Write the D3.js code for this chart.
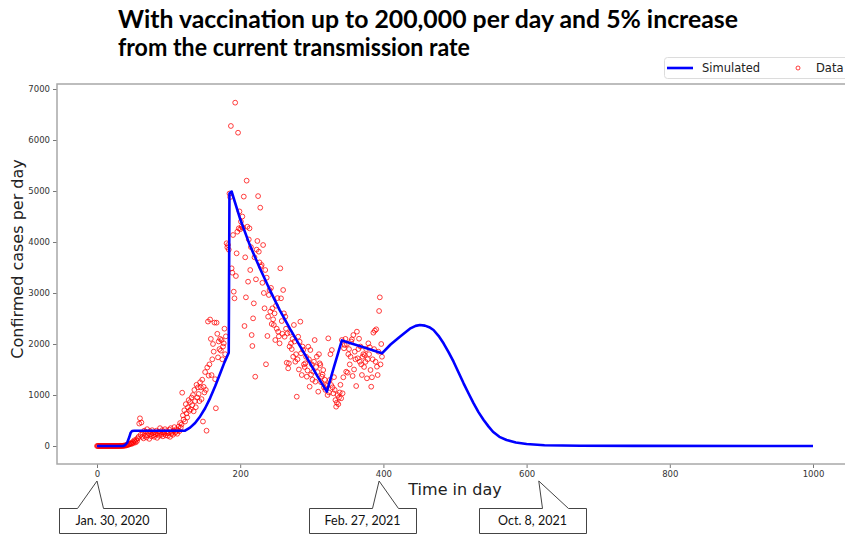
<!DOCTYPE html>
<html>
<head>
<meta charset="utf-8">
<script src="https://cdn.jsdelivr.net/npm/d3@7"></script>
<style>
  body { margin: 0; background: #fff; }
  svg { display: block; }
</style>
</head>
<body>
<div id="chart"></div>
<script>
// Title lines
var titleLines = ["With vaccination up to 200,000 per day and 5% increase",
                  "from the current transmission rate"];

// Axis ticks
var xTicks = [0, 200, 400, 600, 800, 1000];
var yTicks = [0, 1000, 2000, 3000, 4000, 5000, 6000, 7000];

// Simulated curve: [day, cases]
var simDays = [0, 36, 39, 42, 45, 47, 49, 52, 123, 130, 137, 144, 151, 158, 165, 172, 178, 184,
               185, 188, 200, 213, 227, 241, 255, 270, 284, 297, 309, 321, 331, 342, 370, 398,
               410, 423, 437, 445, 451, 458, 464, 470, 477, 484, 491, 498, 505, 512, 519, 526,
               533, 540, 547, 553, 562, 572, 585, 600, 625, 675, 750, 1000];
var simCases = [0, 0, 15, 60, 170, 260, 295, 300, 300, 360, 450, 580, 740, 940, 1170, 1420, 1640, 1830,
                4950, 4990, 4450, 3954, 3500, 3072, 2670, 2288, 1950, 1634, 1340, 1065, 1550, 2070, 1945, 1817,
                1990, 2143, 2300, 2355, 2373, 2360, 2330, 2275, 2160, 2013, 1840, 1653, 1440, 1229, 1030, 837,
                660, 510, 380, 280, 180, 118, 70, 39, 15, 6, 2, 0];

// Reported data, one value per day starting at day 0
var dataCases = [
  0, 0, 0, 0, 0, 0, 0, 0, 0, 0,
  0, 0, 0, 0, 0, 0, 0, 0, 0, 0,
  0, 0, 0, 0, 0, 0, 0, 1, 0, 0,
  0, 2, 0, 3, 1, 5, 2, 8, 4, 10,
  15, 10, 25, 20, 35, 30, 50, 40, 60, 45,
  80, 60, 110, 90, 70, 130, 100, 150, 180, 440,
  543, 220, 460, 180, 250, 150, 300, 200, 280, 170,
  330, 210, 260, 140, 290, 230, 190, 310, 250, 210,
  180, 270, 230, 300, 160, 240, 280, 200, 350, 260,
  220, 310, 190, 270, 240, 330, 210, 290, 250, 200,
  260, 320, 180, 350, 240, 280, 220, 300, 370, 260,
  280, 330, 240, 310, 380, 290, 450, 360, 420, 1045,
  600, 520, 700, 480, 820, 640, 560, 760, 900, 690,
  860, 720, 950, 800, 1000, 680, 1100, 880, 760, 1200,
  950, 1150, 1020, 880, 1250, 1150, 920, 1300, 480, 1160,
  1050, 1450, 1100, 300, 1540, 2440, 1380, 1600, 2480, 2100,
  1390, 1700, 2000, 1850, 2420, 1310, 740, 2418, 2200, 1738,
  2050, 1900, 2100, 1870, 2078, 1700, 1950, 2013, 2300, 1800,
  2150, 3975, 3896, 3941, 3850, 4950, 4880, 6275, 3484, 3398,
  4137, 3026, 2896, 6732, 3333, 3778, 4202, 6143, 4268, 4600,
  4250, 4400, 4301, 4500, 4280, 4890, 2353, 3700, 2915, 5203,
  4300, 3222, 4050, 4268, 3451, 3900, 2176, 1961, 2503, 2797,
  3700, 1359, 3268, 3850, 4020, 4900, 3810, 3600, 4673, 3516,
  3549, 3200, 3941, 3000, 2700, 3451, 1602, 3300, 2157, 2535,
  2961, 3059, 2634, 3100, 2392, 2700, 2484, 2373, 2600, 2078,
  2750, 2300, 2900, 2242, 2150, 2013, 3484, 2896, 2450, 2200,
  3059, 2601, 2143, 2536, 2300, 1633, 2209, 1523, 1621, 1950,
  2222, 2013, 1900, 2100, 1751, 2373, 2050, 1653, 1800, 967,
  1700, 2143, 1500, 2045, 2438, 1817, 1392, 1950, 1882, 1600,
  1550, 1621, 1750, 1359, 1480, 1947, 1700, 1163, 1882, 1400,
  1600, 1300, 1457, 1653, 2078, 1261, 1550, 1751, 1450, 1065,
  1800, 1621, 1588, 1250, 1359, 1400, 1490, 1150, 1300, 1100,
  1200, 1176, 1000, 2111, 1050, 1294, 1800, 1196, 1882, 1150,
  1033, 1350, 1100, 900, 771, 850, 1000, 820, 950, 1050,
  1200, 935, 2078, 1033, 1347, 1915, 1980, 2100, 1457, 2000,
  1438, 1800, 1900, 1600, 1750, 2050, 2092, 1373, 2176, 1500,
  1849, 1700, 1176, 2242, 1719, 1900, 2104, 1653, 1950, 1600,
  1392, 1751, 1800, 1550, 1784, 1650, 1900, 1327, 1700, 2013,
  1800, 1935, 1490, 1163, 1347, 1700, 2222, 1900, 2261, 1653,
  2288, 1555, 1392, 1850, 2647, 2915, 1600, 2000, 1750
];

// Date callouts under the x axis
var calloutDays = [0, 394, 617];
var calloutLabels = ["Jan. 30, 2020", "Feb. 27, 2021", "Oct. 8, 2021"];

// Legend entries
var legendLabels = ["Simulated", "Data"];

// Graph information
var width = 845, height = 535;
var frame = {left: 57, top: 84, bottom: 464, right: 849};

var svg = d3.select('#chart')
  .append('svg')
    .attr('width', width)
    .attr('height', height);

// Build scales
var x = d3.scaleLinear()
  .domain([0, 1000])
  .range([97, 813]);
var y = d3.scaleLinear()
  .domain([0, 7000])
  .range([446, 89]);

// Title
svg.selectAll(".title")
  .data(titleLines)
  .enter().append("text")
    .attr("class", "title")
    .attr("x", 118)
    .attr("y", (d, i) => 28 + i * 27.5)
    .attr("textLength", (d, i) => i == 0 ? 620 : 352)
    .attr("lengthAdjust", "spacingAndGlyphs")
    .style("font-family", "Lato, 'Open Sans', sans-serif")
    .style("font-weight", "bold")
    .style("font-size", "24px")
    .style("fill", "#000")
    .text(d => d);

// Axes
var x_axis = svg.append("g")
  .attr("class", "x-axis")
  .attr("transform", `translate(0,${frame.bottom})`)
  .call(d3.axisBottom(x).tickValues(xTicks).tickFormat(d3.format("d")).tickSize(4).tickPadding(3));
var y_axis = svg.append("g")
  .attr("class", "y-axis")
  .attr("transform", `translate(${frame.left},0)`)
  .call(d3.axisLeft(y).tickValues(yTicks).tickFormat(d3.format("d")).tickSize(4).tickPadding(3));

svg.selectAll(".x-axis .domain, .y-axis .domain").remove();
svg.selectAll(".tick line").attr("stroke", "#555").attr("stroke-width", 0.8);
svg.selectAll(".tick text")
  .style("font-family", "'DejaVu Sans', sans-serif")
  .style("font-size", "8.5px")
  .style("fill", "#333");

// Frame (right side is off the page)
svg.append("rect")
  .attr("x", frame.left)
  .attr("y", frame.top)
  .attr("width", frame.right - frame.left)
  .attr("height", frame.bottom - frame.top)
  .attr("fill", "none")
  .attr("stroke", "#a8a8a8")
  .attr("stroke-width", 1.5);

// Axis titles
svg.append("text")
  .attr("transform", "translate(23,259) rotate(-90)")
  .attr("text-anchor", "middle")
  .style("font-family", "'DejaVu Sans', sans-serif")
  .style("font-size", "16px")
  .style("fill", "#222")
  .text("Confirmed cases per day");

svg.append("text")
  .attr("x", 455)
  .attr("y", 495)
  .attr("text-anchor", "middle")
  .style("font-family", "'DejaVu Sans', sans-serif")
  .style("font-size", "16px")
  .style("fill", "#222")
  .text("Time in day");

// Data points
svg.append("g")
  .selectAll("circle")
  .data(dataCases)
  .enter().append("circle")
    .attr("cx", (d, i) => x(i))
    .attr("cy", d => y(d))
    .attr("r", 2.4)
    .attr("fill", "none")
    .attr("stroke", "red")
    .attr("stroke-opacity", 0.75)
    .attr("stroke-width", 1);

// Simulated line
var simLine = d3.line()
  .x(d => x(d[0]))
  .y(d => y(d[1]));

svg.append("path")
  .datum(d3.zip(simDays, simCases))
  .attr("fill", "none")
  .attr("stroke", "blue")
  .attr("stroke-width", 2.6)
  .attr("stroke-linejoin", "round")
  .attr("d", simLine);

// Legend
var legend = svg.append("g").attr("class", "legend");
legend.append("rect")
  .attr("x", 664.5).attr("y", 57.5)
  .attr("width", 200).attr("height", 21)
  .attr("rx", 3)
  .attr("fill", "#fff")
  .attr("stroke", "#dcdcdc");
legend.append("line")
  .attr("x1", 667).attr("x2", 693)
  .attr("y1", 68).attr("y2", 68)
  .attr("stroke", "blue")
  .attr("stroke-width", 2.6);
legend.append("circle")
  .attr("cx", 798).attr("cy", 68).attr("r", 2)
  .attr("fill", "none")
  .attr("stroke", "red")
  .attr("stroke-opacity", 0.75);
legend.selectAll("text")
  .data(legendLabels)
  .enter().append("text")
    .attr("x", (d, i) => i == 0 ? 702 : 816)
    .attr("y", 72)
    .style("font-family", "'DejaVu Sans', sans-serif")
    .style("font-size", "11.5px")
    .style("fill", "#222")
    .text(d => d);

// Callouts with a wedge pointing at the date on the axis
var boxW = 107, boxH = 25, boxTop = 508, tipY = 481;
var boxLeft = [59, 309, 479];
var wedgeStart = [18, 63, 63];

var callouts = svg.selectAll(".callout")
  .data(calloutDays)
  .enter().append("g")
    .attr("class", "callout");

callouts.append("path")
  .attr("fill", "#fff")
  .attr("stroke", "#444")
  .attr("stroke-width", 1)
  .attr("d", function(d, i) {
    var l = boxLeft[i] + 0.5, t = boxTop + 0.5;
    var w0 = l + wedgeStart[i], w1 = w0 + 26;
    return `M${l},${t} L${w0},${t} L${x(d)},${tipY} L${w1},${t} L${l + boxW},${t} ` +
           `L${l + boxW},${t + boxH} L${l},${t + boxH} Z`;
  });

callouts.append("text")
  .attr("x", (d, i) => boxLeft[i] + boxW / 2)
  .attr("y", boxTop + 17)
  .attr("text-anchor", "middle")
  .style("font-family", "Lato, 'Open Sans', sans-serif")
  .style("font-size", "12.5px")
  .style("fill", "#111")
  .text((d, i) => calloutLabels[i]);
</script>
</body>
</html>
